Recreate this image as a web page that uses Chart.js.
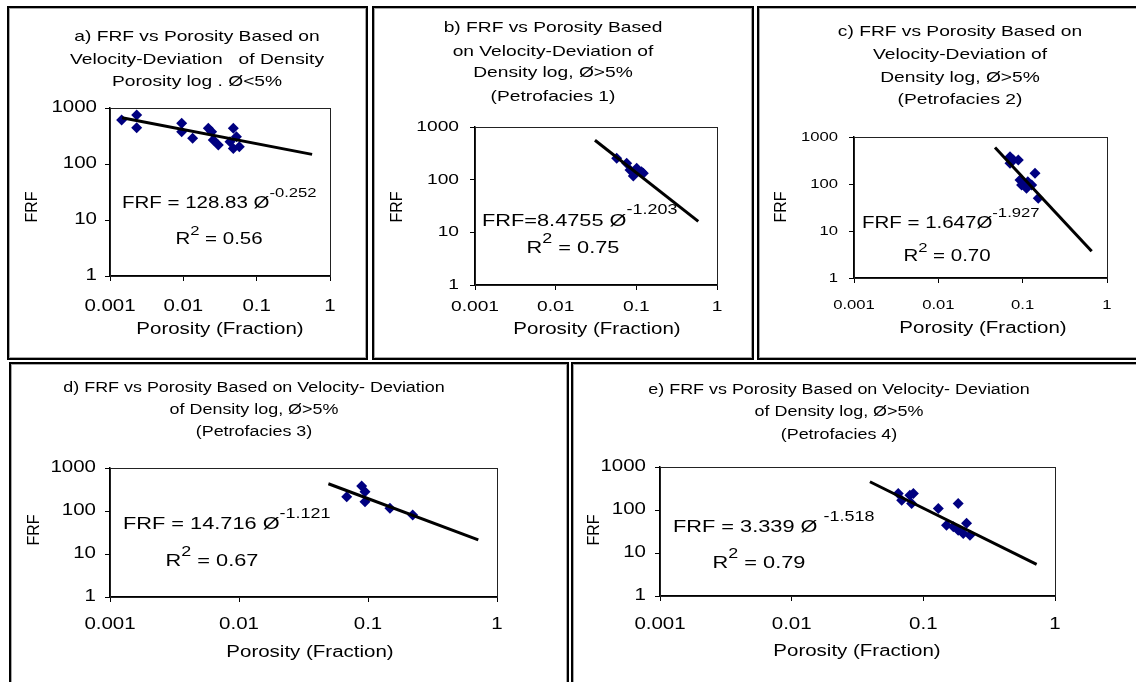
<!DOCTYPE html>
<html>
<head>
<meta charset="utf-8">
<script src="https://cdn.jsdelivr.net/npm/chart.js@4"></script>
<style>
  html, body { margin: 0; padding: 0; background: #fff; }
  body { width: 1136px; height: 682px; position: relative; overflow: hidden; }
  .box { position: absolute; box-sizing: border-box; border: 2px solid #000; box-shadow: inset 0 0 0 1px #a8a8a8; }
  canvas { position: absolute; }
</style>
</head>
<body>
<script>
// ---- axis ticks (log-log, four decades each way) ----
const xTickValues = [0.001, 0.01, 0.1, 1];
const xTickLabels = ['0.001', '0.01', '0.1', '1'];
const yTickValues = [1, 10, 100, 1000];
const yTickLabels = ['1', '10', '100', '1000'];

// ---- measured samples: porosity (fraction) and FRF ----
const porosityA = [0.00144, 0.00231, 0.00231, 0.0095, 0.0095, 0.0134, 0.0219, 0.0243, 0.0256, 0.0300, 0.0433, 0.048, 0.053, 0.048, 0.058];
const frfA      = [611, 750, 445, 533, 377, 288, 434, 377, 268, 218, 250, 434, 307, 190, 204];

const porosityB = [0.0571, 0.0759, 0.0834, 0.0918, 0.101, 0.116, 0.122, 0.096];
const frfB      = [255, 205, 153, 117, 164, 142, 132, 132];

const porosityC = [0.0708, 0.0775, 0.0888, 0.0708, 0.093, 0.097, 0.111, 0.128, 0.140, 0.153, 0.115];
const frfC      = [382, 324, 324, 276, 122, 95, 81, 95, 169, 50, 112];

const porosityD = [0.0684, 0.0893, 0.0948, 0.0948, 0.148, 0.222];
const frfD      = [215, 382, 281, 164, 116, 81];

const porosityE = [0.0645, 0.0685, 0.079, 0.0815, 0.084, 0.130, 0.184, 0.150, 0.169, 0.184, 0.201, 0.213, 0.226];
const frfE      = [241, 169, 220, 141, 241, 108, 141, 44, 41, 34, 28.5, 49, 26];

// ---- power-law fits FRF = a * phi^b ----
const fitCoef  = [128.83, 8.4755, 1.647, 14.716, 3.339];
const fitExp   = [-0.252, -1.203, -1.927, -1.121, -1.518];
const fitR2    = ['0.56', '0.75', '0.70', '0.67', '0.79'];
const fitFrom  = [0.00146, 0.0307, 0.047, 0.0493, 0.0393];
const fitTo    = [0.57, 0.586, 0.658, 0.716, 0.725];

// ---- panel titles ----
const titleA = ['a) FRF vs Porosity Based on', 'Velocity-Deviation   of Density', 'Porosity log . \u00D8<5%'];
const titleB = ['b) FRF vs Porosity Based', 'on Velocity-Deviation of', 'Density log, \u00D8>5%', '(Petrofacies 1)'];
const titleC = ['c) FRF vs Porosity Based on', 'Velocity-Deviation of', 'Density log, \u00D8>5%', '(Petrofacies 2)'];
const titleD = ['d) FRF vs Porosity Based on Velocity- Deviation', 'of Density log, \u00D8>5%', '(Petrofacies 3)'];
const titleE = ['e) FRF vs Porosity Based on Velocity- Deviation', 'of Density log, \u00D8>5%', '(Petrofacies 4)'];

const xAxisTitle = 'Porosity (Fraction)';
const yAxisTitle = 'FRF';

// ---- page layout (pixels) ----
const FONT = '"Liberation Sans", Arial, sans-serif';
const SX = 1.28;   // horizontal widening of all lettering

const panels = [
  { px: porosityA, fy: frfA, title: titleA, box: [7, 6, 361, 354], plot: [110, 108, 330, 276],
    titleX: 197, titleY: [37, 60, 82], titleSize: 15, tickSize: 16, xLabY: 307, yLabR: 97,
    yTitle: [33, 207], xTitle: [220, 330], axisSize: 16,
    eq: { x: 122, y: 204, pre: 'FRF = ', post: ' \u00D8', size: 16, supDy: -11 }, r2: [219, 240] },
  { px: porosityB, fy: frfB, title: titleB, box: [372, 6, 382, 354], plot: [475, 127, 717, 285],
    titleX: 553, titleY: [28, 52, 73, 97], titleSize: 15, tickSize: 15, xLabY: 307, yLabR: 459,
    yTitle: [398, 207], xTitle: [597, 330], axisSize: 16,
    eq: { x: 482, y: 221, pre: 'FRF=', post: ' \u00D8', size: 17, supDy: -11 }, r2: [573, 248] },
  { px: porosityC, fy: frfC, title: titleC, box: [757, 6, 390, 354], plot: [854, 137, 1107, 278],
    titleX: 960, titleY: [32, 55, 78, 100], titleSize: 15, tickSize: 13, xLabY: 305, yLabR: 838,
    yTitle: [782, 207], xTitle: [983, 329], axisSize: 16,
    eq: { x: 862, y: 224, pre: 'FRF = ', post: '\u00D8', size: 16, supDy: -11 }, r2: [947, 257] },
  { px: porosityD, fy: frfD, title: titleD, box: [9, 362, 560, 330], plot: [110, 468, 497, 597],
    titleX: 254, titleY: [388, 410, 432], titleSize: 14, tickSize: 16, xLabY: 625, yLabR: 96,
    yTitle: [35, 530], xTitle: [310, 653], axisSize: 16,
    eq: { x: 123, y: 524, pre: 'FRF = ', post: ' \u00D8', size: 17, supDy: -10 }, r2: [212, 561] },
  { px: porosityE, fy: frfE, title: titleE, box: [571, 362, 580, 330], plot: [660, 467, 1055, 596],
    titleX: 839, titleY: [390, 412, 435], titleSize: 14, tickSize: 16, xLabY: 625, yLabR: 646,
    yTitle: [595, 530], xTitle: [857, 652], axisSize: 16,
    eq: { x: 673, y: 527, pre: 'FRF = ', post: ' \u00D8 ', size: 17, supDy: -10 }, r2: [759, 563] }
];

// draws a string widened by SX; returns its drawn width
function wideText(ctx, str, x, y, size, align) {
  ctx.save();
  ctx.font = size + 'px ' + FONT;
  ctx.textBaseline = 'middle';
  ctx.textAlign = 'left';
  const w = ctx.measureText(str).width * SX;
  const x0 = align === 'center' ? x - w / 2 : align === 'right' ? x - w : x;
  ctx.translate(x0, y);
  ctx.scale(SX, 1);
  ctx.fillStyle = '#000';
  ctx.fillText(str, 0, 0);
  ctx.restore();
  return w;
}
function textWidth(ctx, str, size) {
  ctx.save();
  ctx.font = size + 'px ' + FONT;
  const w = ctx.measureText(str).width * SX;
  ctx.restore();
  return w;
}

// lettering, tick labels and plot frame for one panel
const panelDecor = {
  id: 'panelDecor',
  afterDraw(chart, args, o) {
    const ctx = chart.ctx;
    const p = o.panel, i = o.index;
    const ox = p.box[0], oy = p.box[1];
    const ca = chart.chartArea;

    // plot frame
    ctx.save();
    ctx.strokeStyle = '#222';
    ctx.lineWidth = 1;
    ctx.strokeRect(Math.round(ca.left) + 0.5, Math.round(ca.top) + 0.5, Math.round(ca.right - ca.left), Math.round(ca.bottom - ca.top));
    ctx.restore();

    // title
    p.title.forEach((line, k) => wideText(ctx, line, p.titleX - ox, p.titleY[k] - oy, p.titleSize, 'center'));

    // tick labels, placed by the scales
    const xs = chart.scales.x, ys = chart.scales.y;
    xTickValues.forEach((v, k) => wideText(ctx, xTickLabels[k], xs.getPixelForValue(v), p.xLabY - oy, p.tickSize, 'center'));
    yTickValues.forEach((v, k) => wideText(ctx, yTickLabels[k], p.yLabR - ox, ys.getPixelForValue(v), p.tickSize, 'right'));

    // axis titles
    wideText(ctx, xAxisTitle, p.xTitle[0] - ox, p.xTitle[1] - oy, p.axisSize, 'center');
    ctx.save();
    ctx.translate(p.yTitle[0] - ox, p.yTitle[1] - oy);
    ctx.rotate(-Math.PI / 2);
    ctx.font = p.axisSize + 'px ' + FONT;
    ctx.textAlign = 'center';
    ctx.textBaseline = 'middle';
    ctx.fillStyle = '#000';
    ctx.fillText(yAxisTitle, 0, 0);
    ctx.restore();

    // fitted equation and R^2
    const e = p.eq;
    const supSize = Math.round(e.size * 0.8);
    const main = e.pre + String(fitCoef[i]) + e.post;
    const w = wideText(ctx, main, e.x - ox, e.y - oy, e.size, 'left');
    wideText(ctx, fitExp[i].toFixed(3), e.x - ox + w, e.y - oy + e.supDy, supSize, 'left');

    const tail = ' = ' + fitR2[i];
    const total = textWidth(ctx, 'R', e.size) + textWidth(ctx, '2', supSize) + textWidth(ctx, tail, e.size);
    let x = p.r2[0] - ox - total / 2;
    const y = p.r2[1] - oy;
    x += wideText(ctx, 'R', x, y, e.size, 'left');
    x += wideText(ctx, '2', x, y - 9, supSize, 'left');
    wideText(ctx, tail, x, y, e.size, 'left');
  }
};

panels.forEach((p, i) => {
  const box = document.createElement('div');
  box.className = 'box';
  box.style.left = p.box[0] + 'px';
  box.style.top = p.box[1] + 'px';
  box.style.width = p.box[2] + 'px';
  box.style.height = p.box[3] + 'px';
  document.body.appendChild(box);

  const cv = document.createElement('canvas');
  cv.width = p.box[2];
  cv.height = p.box[3];
  cv.style.left = p.box[0] + 'px';
  cv.style.top = p.box[1] + 'px';
  cv.style.width = p.box[2] + 'px';
  cv.style.height = p.box[3] + 'px';
  document.body.appendChild(cv);

  const samples = p.px.map((v, k) => ({ x: v, y: p.fy[k] }));
  const fitLine = [fitFrom[i], fitTo[i]].map(v => ({ x: v, y: fitCoef[i] * Math.pow(v, fitExp[i]) }));

  const pad = {
    left: p.plot[0] - p.box[0],
    top: p.plot[1] - p.box[1],
    right: p.box[0] + p.box[2] - p.plot[2],
    bottom: p.box[1] + p.box[3] - p.plot[3]
  };

  new Chart(cv, {
    type: 'scatter',
    data: {
      datasets: [
        { data: samples, pointStyle: 'rectRot', pointRadius: 5.5, pointHoverRadius: 5.5,
          backgroundColor: '#000080', borderColor: '#000080', borderWidth: 0, showLine: false, order: 1 },
        { data: fitLine, showLine: true, pointRadius: 0, borderColor: '#000', borderWidth: 3, order: 0 }
      ]
    },
    options: {
      responsive: false,
      animation: false,
      devicePixelRatio: 1,
      layout: { padding: pad },
      plugins: {
        legend: { display: false },
        tooltip: { enabled: false },
        title: { display: false },
        panelDecor: { panel: p, index: i }
      },
      scales: {
        x: {
          type: 'logarithmic', min: 0.001, max: 1,
          afterBuildTicks: s => { s.ticks = xTickValues.map(v => ({ value: v, major: true })); },
          afterFit: s => { s.height = 0; },
          ticks: { display: false },
          grid: { drawOnChartArea: false, drawTicks: true, tickLength: 5, color: '#000', lineWidth: 1 },
          border: { display: true, color: '#000', width: 1.5 }
        },
        y: {
          type: 'logarithmic', min: 1, max: 1000,
          afterBuildTicks: s => { s.ticks = yTickValues.map(v => ({ value: v, major: true })); },
          afterFit: s => { s.width = 0; },
          ticks: { display: false },
          grid: { drawOnChartArea: false, drawTicks: true, tickLength: 5, color: '#000', lineWidth: 1 },
          border: { display: true, color: '#000', width: 1.5 }
        }
      }
    },
    plugins: [panelDecor]
  });
});
</script>
</body>
</html>
